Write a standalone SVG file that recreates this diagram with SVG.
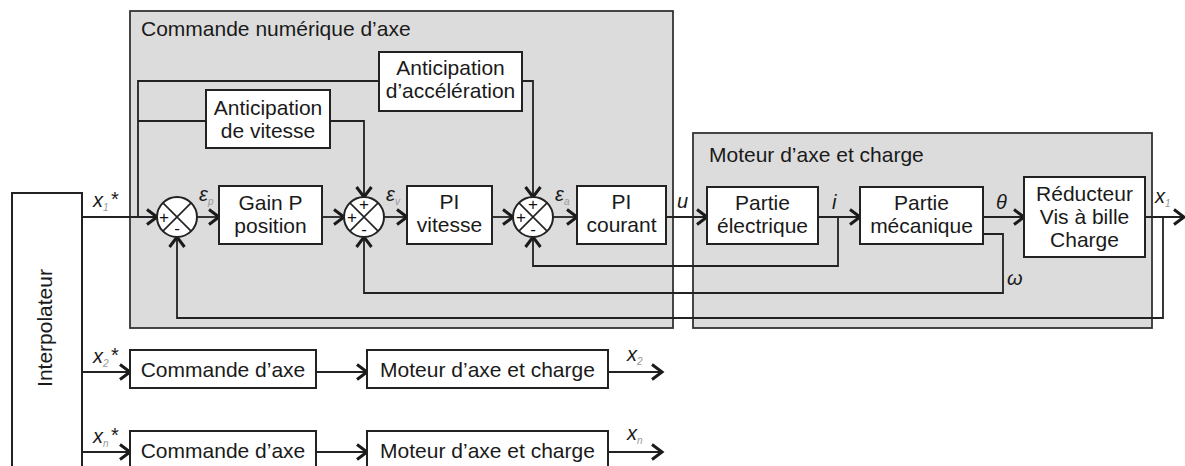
<svg xmlns="http://www.w3.org/2000/svg" width="1185" height="466" viewBox="0 0 1185 466">
<defs>
<style>
text{font-family:"Liberation Sans",Arial,sans-serif;fill:#1a1a1a}
.t{font-size:21px;text-anchor:middle}
.ttl{font-size:21px}
.box{fill:#fff;stroke:#222;stroke-width:2}
.panel{fill:#dcdcdc;stroke:#333;stroke-width:1.8}
.ln{fill:none;stroke:#222;stroke-width:1.8}
.sum{fill:#fff;stroke:#222;stroke-width:2}
.sx{stroke:#222;stroke-width:1.6}
.sg{font-size:17px;text-anchor:middle;fill:#111}
.v{font-style:italic;font-size:20px}
.sb{font-style:italic;font-size:10px;fill:#999}
.st{font-size:20px}
</style>
<marker id="arr" markerWidth="16" markerHeight="20" refX="12" refY="10" orient="auto" markerUnits="userSpaceOnUse">
<path d="M2,2.5 L12,10 L2,17.5" fill="none" stroke="#1a1a1a" stroke-width="3" stroke-linejoin="miter"/>
</marker>
</defs>
<rect width="1185" height="466" fill="#fff"/>

<g id="panel-commande">
<rect class="panel" x="130" y="11" width="543" height="317"/>
<text class="ttl" x="141" y="36">Commande numérique d’axe</text>
</g>
<g id="panel-moteur">
<rect class="panel" x="693" y="133" width="459" height="195"/>
<text class="ttl" x="709" y="162">Moteur d’axe et charge</text>
</g>

<g id="connectors">
<path class="ln" d="M82,217 H157" marker-end="url(#arr)"/>
<path class="ln" d="M197,217 H219" marker-end="url(#arr)"/>
<path class="ln" d="M322,217 H344" marker-end="url(#arr)"/>
<path class="ln" d="M384,217 H407" marker-end="url(#arr)"/>
<path class="ln" d="M492,217 H513" marker-end="url(#arr)"/>
<path class="ln" d="M553,217 H577" marker-end="url(#arr)"/>
<path class="ln" d="M666,217 H707" marker-end="url(#arr)"/>
<path class="ln" d="M818,217 H860" marker-end="url(#arr)"/>
<path class="ln" d="M983,217 H1024" marker-end="url(#arr)"/>
<path class="ln" d="M1145,217 H1184" marker-end="url(#arr)"/>
<path class="ln" d="M138,217 V81 H379"/>
<path class="ln" d="M138,121 H206"/>
<path class="ln" d="M330,121 H364 V197" marker-end="url(#arr)"/>
<path class="ln" d="M522,81 H533 V197" marker-end="url(#arr)"/>
<path class="ln" d="M838,217 V266 H533 V237" marker-end="url(#arr)"/>
<path class="ln" d="M983,234 H1003 V293 H364 V237" marker-end="url(#arr)"/>
<path class="ln" d="M1163,217 V318 H177 V237" marker-end="url(#arr)"/>
<path class="ln" d="M82,372 H130" marker-end="url(#arr)"/>
<path class="ln" d="M316,372 H367" marker-end="url(#arr)"/>
<path class="ln" d="M608,372 H662" marker-end="url(#arr)"/>
<path class="ln" d="M82,452 H130" marker-end="url(#arr)"/>
<path class="ln" d="M316,452 H367" marker-end="url(#arr)"/>
<path class="ln" d="M608,452 H662" marker-end="url(#arr)"/>
</g>

<g id="interpolateur">
<rect class="box" x="12" y="193" width="70" height="300"/>
<text class="t" transform="translate(52,328) rotate(-90)">Interpolateur</text>
</g>

<g id="sum1">
<circle class="sum" cx="177" cy="217" r="20"/>
<path class="sx" d="M162.9,202.9 L191.1,231.1 M191.1,202.9 L162.9,231.1"/>
<text class="sg" x="164" y="223">+</text>
<text class="sg" x="177" y="234">-</text>
</g>
<g id="sum2">
<circle class="sum" cx="364" cy="217" r="20"/>
<path class="sx" d="M349.9,202.9 L378.1,231.1 M378.1,202.9 L349.9,231.1"/>
<text class="sg" x="364" y="210">+</text>
<text class="sg" x="352" y="223">+</text>
<text class="sg" x="364" y="235">-</text>
</g>
<g id="sum3">
<circle class="sum" cx="533" cy="217" r="20"/>
<path class="sx" d="M518.9,202.9 L547.1,231.1 M547.1,202.9 L518.9,231.1"/>
<text class="sg" x="533" y="210">+</text>
<text class="sg" x="521" y="223">+</text>
<text class="sg" x="533" y="235">-</text>
</g>

<g id="anticipation-vitesse">
<rect class="box" x="206" y="90" width="124" height="58"/>
<text class="t" x="268" y="115">Anticipation</text>
<text class="t" x="268" y="138">de vitesse</text>
</g>
<g id="anticipation-acceleration">
<rect class="box" x="379" y="52" width="143" height="59"/>
<text class="t" x="450.5" y="75">Anticipation</text>
<text class="t" x="450.5" y="98">d’accélération</text>
</g>
<g id="gain-p">
<rect class="box" x="219" y="186" width="103" height="58"/>
<text class="t" x="270.5" y="210">Gain P</text>
<text class="t" x="270.5" y="233">position</text>
</g>
<g id="pi-vitesse">
<rect class="box" x="407" y="186" width="85" height="58"/>
<text class="t" x="449.5" y="209">PI</text>
<text class="t" x="449.5" y="232">vitesse</text>
</g>
<g id="pi-courant">
<rect class="box" x="577" y="186" width="89" height="58"/>
<text class="t" x="621.5" y="209">PI</text>
<text class="t" x="621.5" y="232">courant</text>
</g>
<g id="partie-electrique">
<rect class="box" x="707" y="187" width="111" height="57"/>
<text class="t" x="762.5" y="210">Partie</text>
<text class="t" x="762.5" y="233">électrique</text>
</g>
<g id="partie-mecanique">
<rect class="box" x="860" y="187" width="123" height="57"/>
<text class="t" x="921.5" y="210">Partie</text>
<text class="t" x="921.5" y="233">mécanique</text>
</g>
<g id="reducteur">
<rect class="box" x="1024" y="177" width="121" height="80"/>
<text class="t" x="1084.5" y="201">Réducteur</text>
<text class="t" x="1084.5" y="224">Vis à bille</text>
<text class="t" x="1084.5" y="247">Charge</text>
</g>
<g id="commande-axe-2">
<rect class="box" x="130" y="350" width="186" height="38"/>
<text class="t" x="223" y="377">Commande d’axe</text>
</g>
<g id="moteur-axe-2">
<rect class="box" x="367" y="350" width="241" height="38"/>
<text class="t" x="487.5" y="377">Moteur d’axe et charge</text>
</g>
<g id="commande-axe-n">
<rect class="box" x="130" y="431" width="186" height="38"/>
<text class="t" x="223" y="458">Commande d’axe</text>
</g>
<g id="moteur-axe-n">
<rect class="box" x="367" y="431" width="241" height="38"/>
<text class="t" x="487.5" y="458">Moteur d’axe et charge</text>
</g>

<g id="labels">
<text class="v" x="93" y="207">x</text><text class="sb" x="103" y="211">1</text><text class="st" x="111" y="206">*</text>
<text class="v" x="93" y="363">x</text><text class="sb" x="103" y="367">2</text><text class="st" x="111" y="362">*</text>
<text class="v" x="93" y="443">x</text><text class="sb" x="103" y="447">n</text><text class="st" x="111" y="442">*</text>
<text class="v" x="199" y="201">ε</text><text class="sb" x="208" y="205">p</text>
<text class="v" x="386" y="201">ε</text><text class="sb" x="395" y="205">v</text>
<text class="v" x="555" y="201">ε</text><text class="sb" x="564" y="205">a</text>
<text class="v" x="677" y="208">u</text>
<text class="v" x="832" y="209">i</text>
<text class="v" x="996" y="209">θ</text>
<text class="v" x="1007" y="285">ω</text>
<text class="v" x="1155" y="203">x</text><text class="sb" x="1165" y="207">1</text>
<text class="v" x="627" y="361">x</text><text class="sb" x="637" y="365">2</text>
<text class="v" x="627" y="440">x</text><text class="sb" x="637" y="444">n</text>
</g>
</svg>
